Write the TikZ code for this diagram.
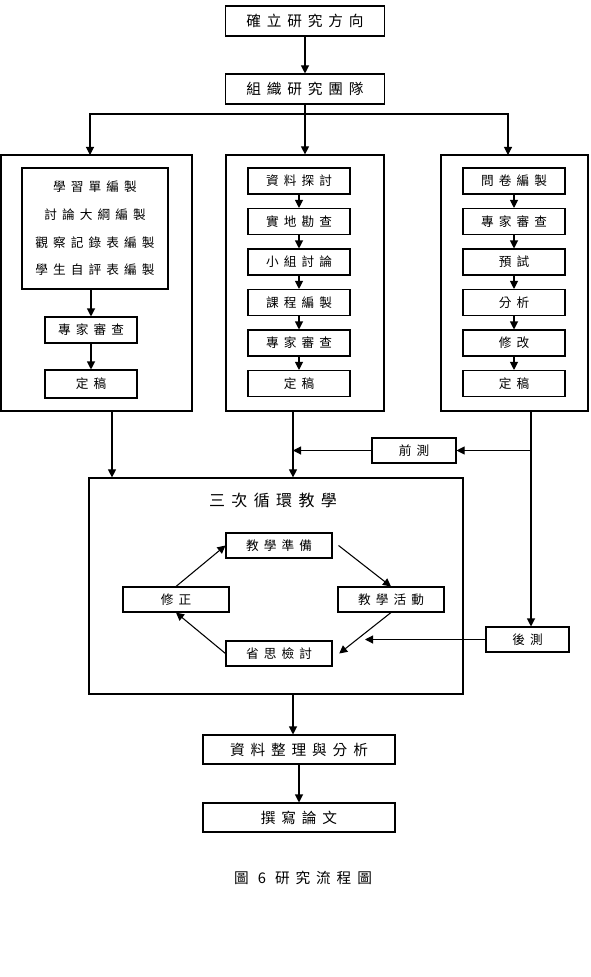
\documentclass[tikz,border=0pt]{standalone}
\usepackage{fontspec}
\newfontfamily\zhfont[LetterSpace=40]{Noto Sans CJK TC}
\usetikzlibrary{arrows.meta}
\newcommand{\px}{0.75pt}
\tikzset{
  flow/.style={x=0.75pt, y=-0.75pt, >={Triangle[length=6pt,width=6pt]}, line width=0.8pt,
               every node/.style={inner sep=0pt, font=\zhfont\fontsize{9.5}{11}\selectfont}},
  sz/.style 2 args={minimum width=#1*\px, minimum height=#2*\px},
  box/.style={draw, rectangle},
  big/.style={font=\zhfont\fontsize{11}{13}\selectfont},
  frame/.style={draw, rectangle, line width=0.9pt}
}

\begin{document}
\begin{tikzpicture}[flow]
\useasboundingbox (0,0) rectangle (591,977);
\node[box,big,sz={159}{30}] (dir) at (305,21) {確立研究方向};
\node[box,big,sz={159}{30}] (team) at (305,89) {組織研究團隊};
\draw[->] (dir) -- (team);
% three branches
\node[frame,sz={191}{256}] (lfr) at (96.5,283) {};
\node[frame,sz={158}{256}] (mfr) at (305,283) {};
\node[frame,sz={147}{256}] (rfr) at (514.5,283) {};
\coordinate (split) at (305,114);
\coordinate (lin) at (90,155); \coordinate (rin) at (508,155);
\draw[->] (team) -- (mfr);
\draw[->] (split) -| (lin); \draw[->] (split) -| (rin);
\node[box,sz={146}{121},align=center,font=\zhfont\fontsize{9.5}{20.8}\selectfont] (lst) at (95,228.5)
  {學習單編製\\討論大綱編製\\觀察記錄表編製\\學生自評表編製};
\node[box,sz={92}{26}] (lexp) at (91,330) {專家審查};
\node[box,sz={92}{28}] (lfin) at (91,384) {定稿};
\draw[->] (lst.south -| lexp) -- (lexp); \draw[->] (lexp) -- (lfin);
\foreach \t [count=\i] in {資料探討,實地勘查,小組討論,課程編製,專家審查,定稿}
  \node[box,sz={102}{26}] (m\i) at (299,{181+40.5*(\i-1)}) {\t};
\foreach \t [count=\i] in {問卷編製,專家審查,預試,分析,修改,定稿}
  \node[box,sz={102}{26}] (r\i) at (514,{181+40.5*(\i-1)}) {\t};
\foreach \a/\b in {1/2,2/3,3/4,4/5,5/6} {\draw[->] (m\a) -- (m\b); \draw[->] (r\a) -- (r\b);}
% tests and cycle
\node[box,sz={84}{25}] (pre) at (414,450.5) {前測};
\node[box,sz={83}{25}] (post) at (527.5,639.5) {後測};
\node[frame,sz={374}{216}] (cyc) at (276,586) {};
\node[font=\zhfont\fontsize{12}{14}\selectfont] (cyct) at (273,500) {三次循環教學};
\coordinate (lout) at (112,411); \coordinate (mout) at (293,411); \coordinate (rout) at (531,411);
\coordinate (postin) at (365,639.5);
\draw[->] (lout) -- (lout |- cyc.north);
\draw[->] (mout) -- (mout |- cyc.north);
\draw[->] (pre) -- (pre -| mout);
\draw[->] (rout) -- (rout |- post.north);
\draw[->] (rout |- pre) -- (pre);
\draw[->] (post) -- (postin);
\node[box,sz={106}{25}] (prep) at (279,545.5) {教學準備};
\node[box,sz={106}{25}] (fix) at (176,599.5) {修正};
\node[box,sz={106}{25}] (act) at (391,599.5) {教學活動};
\node[box,sz={106}{25}] (refl) at (279,653.5) {省思檢討};
\draw[->] (fix.north) -- (prep.west);
\draw[->] ([xshift=4.5pt]prep.east) -- (act.north);
\draw[->] (act.south) -- ([xshift=5pt]refl.east);
\draw[->] (refl.west) -- (fix.south);
% results
\node[box,big,sz={192}{29}] (ana) at (299,749.5) {資料整理與分析};
\node[box,big,sz={192}{29}] (wri) at (299,817.5) {撰寫論文};
\draw[->] (cyc.south -| mout) -- (ana.north -| mout);
\draw[->] (ana) -- (wri);
\node[big] (cap) at (303,878) {圖 6 研究流程圖};
\end{tikzpicture}
\end{document}
